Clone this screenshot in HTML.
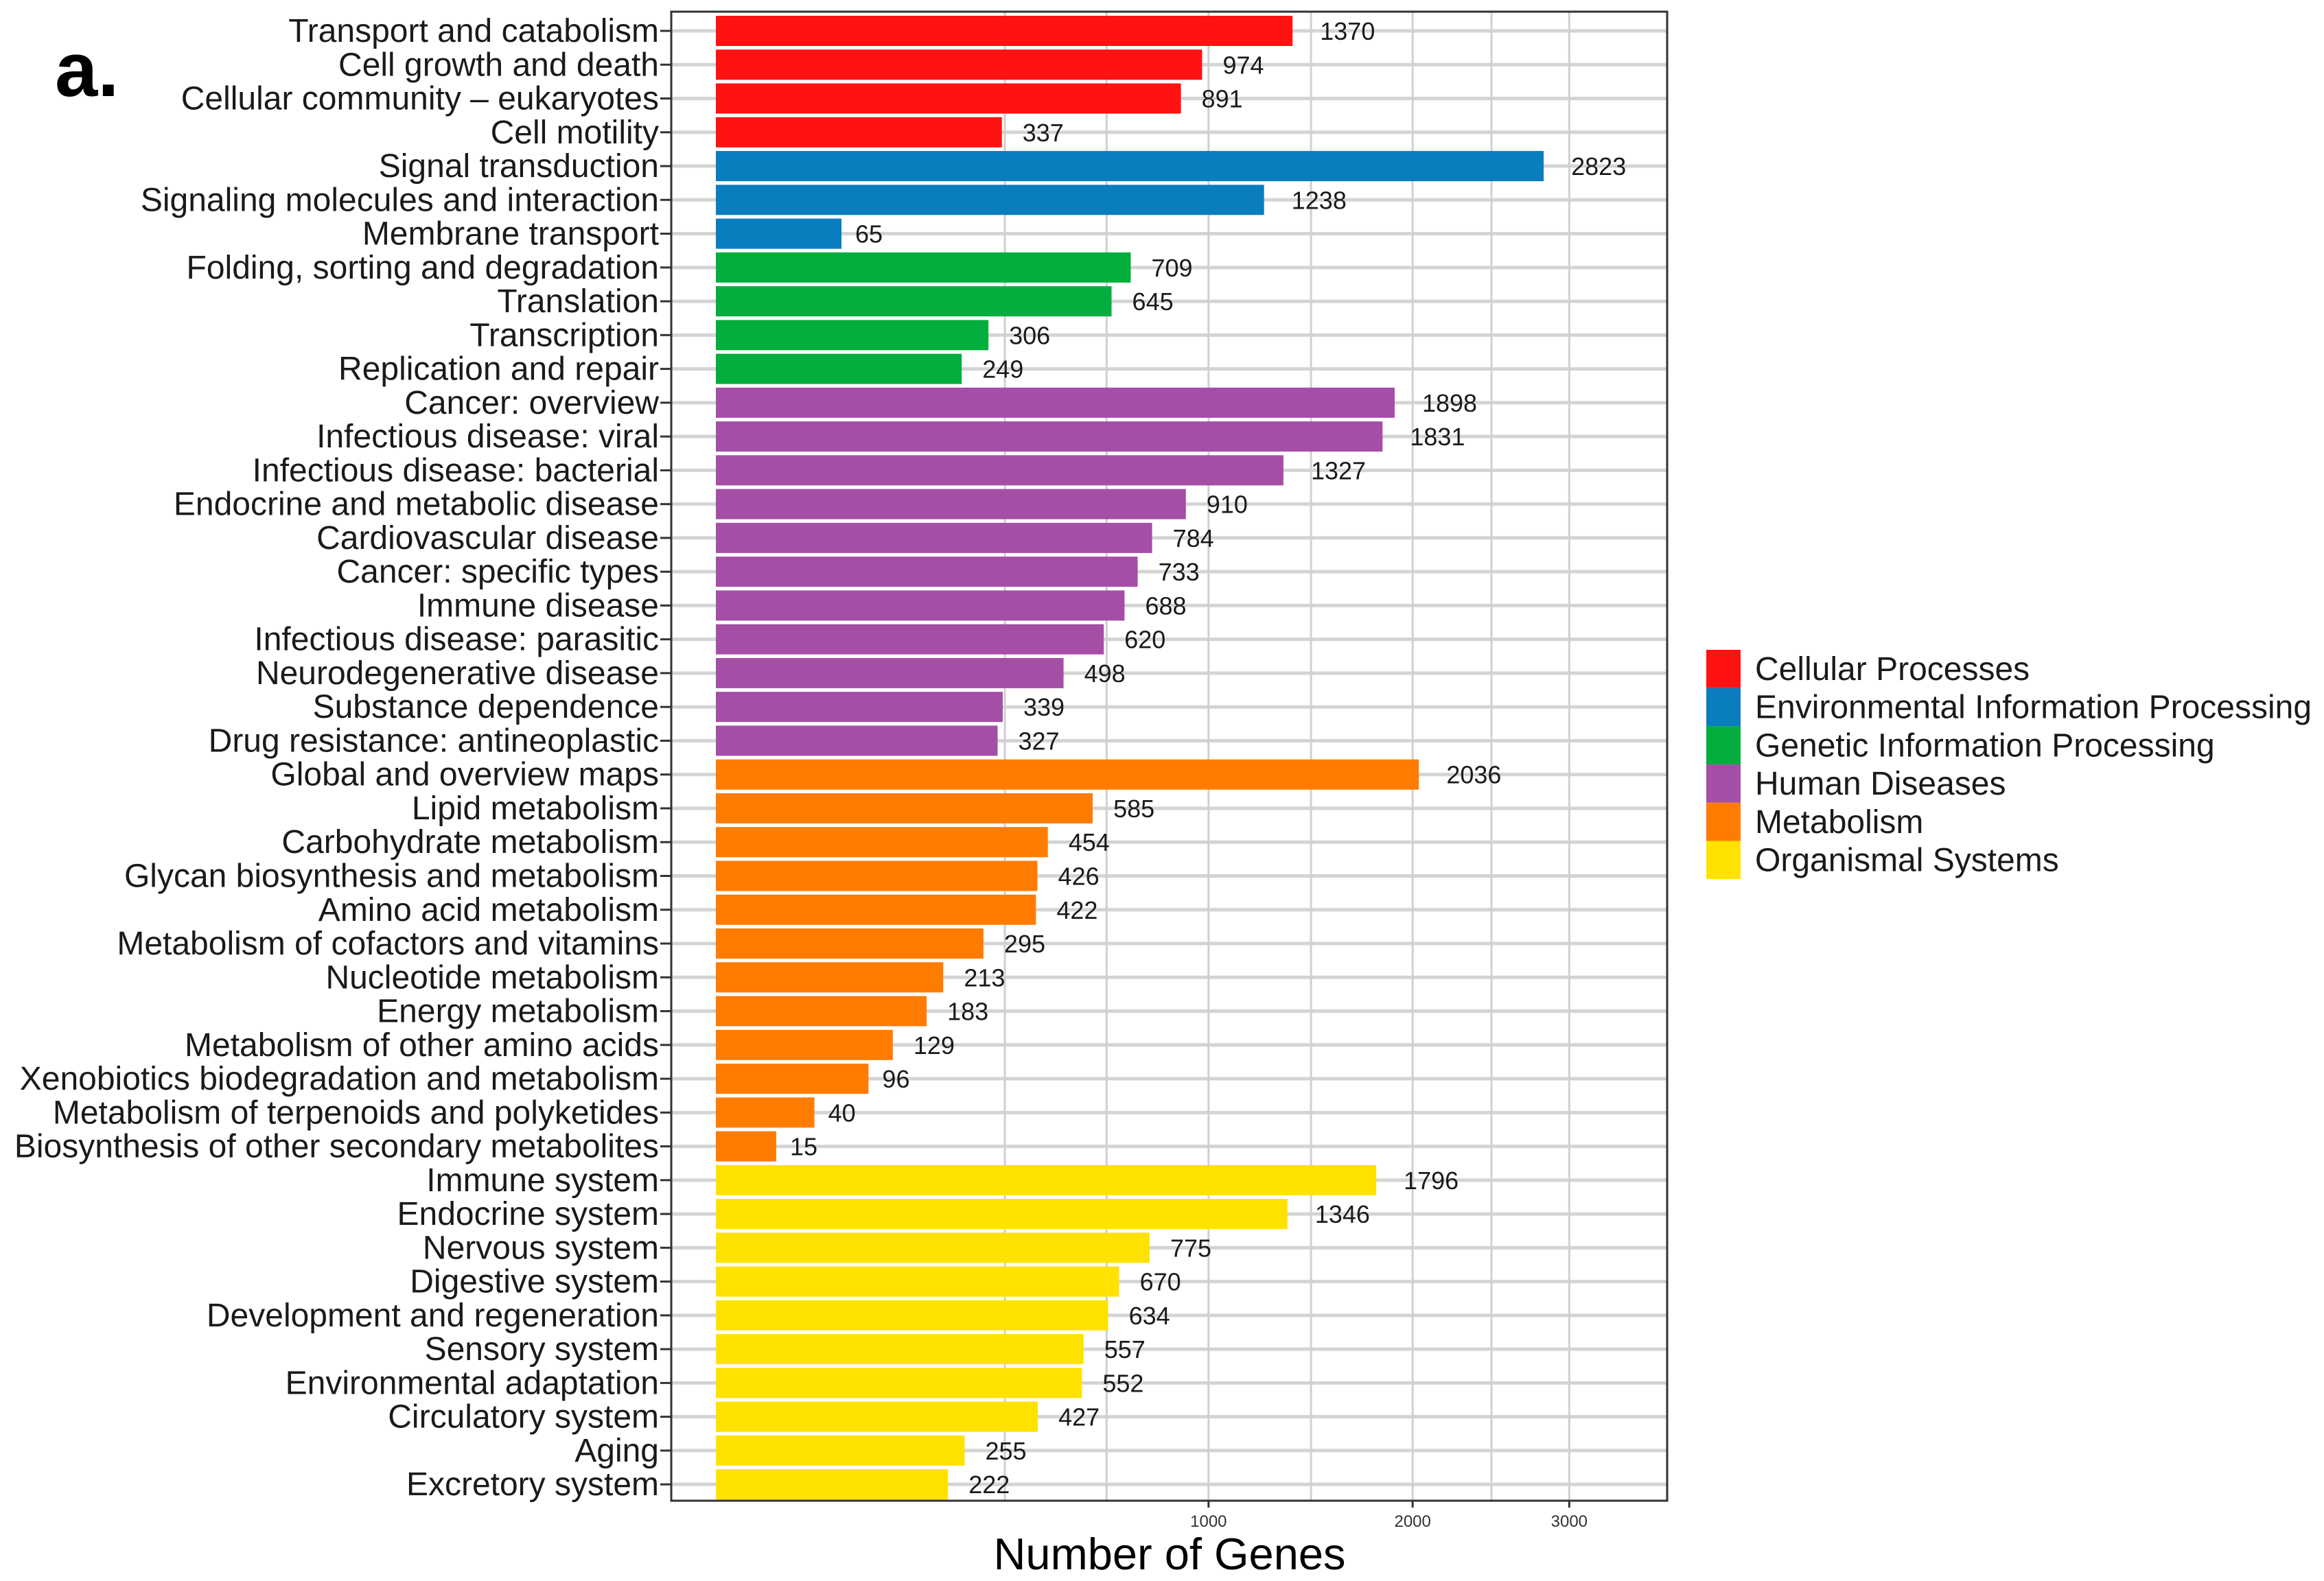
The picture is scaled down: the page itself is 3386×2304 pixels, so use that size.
<!DOCTYPE html>
<html><head><meta charset="utf-8"><style>
html,body{margin:0;padding:0;background:#fff;}
svg{display:block;font-family:"Liberation Sans",Arial,sans-serif;}
</style></head><body>
<svg id="chart" width="3386" height="2304" viewBox="0 0 3386 2304" xmlns="http://www.w3.org/2000/svg">
<rect width="3386" height="2304" fill="#fff"/>
<text x="80" y="140" font-size="112" font-weight="bold" fill="#000">a.</text>
<g id="grid"></g><g id="bars"></g><g id="ylab"></g><g id="vals"></g><g id="xaxis"></g><g id="legend"></g>
<rect x="978" y="17" width="1451" height="2170" fill="none" stroke="#333" stroke-width="3"/>
<text x="1704" y="2287" font-size="65" text-anchor="middle" fill="#000">Number of Genes</text>
</svg>
<script>
const categories=["Transport and catabolism","Cell growth and death","Cellular community – eukaryotes","Cell motility","Signal transduction","Signaling molecules and interaction","Membrane transport","Folding, sorting and degradation","Translation","Transcription","Replication and repair","Cancer: overview","Infectious disease: viral","Infectious disease: bacterial","Endocrine and metabolic disease","Cardiovascular disease","Cancer: specific types","Immune disease","Infectious disease: parasitic","Neurodegenerative disease","Substance dependence","Drug resistance: antineoplastic","Global and overview maps","Lipid metabolism","Carbohydrate metabolism","Glycan biosynthesis and metabolism","Amino acid metabolism","Metabolism of cofactors and vitamins","Nucleotide metabolism","Energy metabolism","Metabolism of other amino acids","Xenobiotics biodegradation and metabolism","Metabolism of terpenoids and polyketides","Biosynthesis of other secondary metabolites","Immune system","Endocrine system","Nervous system","Digestive system","Development and regeneration","Sensory system","Environmental adaptation","Circulatory system","Aging","Excretory system"];
const values=[1370,974,891,337,2823,1238,65,709,645,306,249,1898,1831,1327,910,784,733,688,620,498,339,327,2036,585,454,426,422,295,213,183,129,96,40,15,1796,1346,775,670,634,557,552,427,255,222];
const groups=[0,0,0,0,1,1,1,2,2,2,2,3,3,3,3,3,3,3,3,3,3,3,4,4,4,4,4,4,4,4,4,4,4,4,5,5,5,5,5,5,5,5,5,5];
const groupNames=["Cellular Processes","Environmental Information Processing","Genetic Information Processing","Human Diseases","Metabolism","Organismal Systems"];
const groupColors=["#fe1212","#0a7dbf","#03ae3e","#a54ea6","#ff7c00","#ffe200"];
const xTicks=[1000,2000,3000];
const xMinor=[344,629,1459,2478];

const NS="http://www.w3.org/2000/svg";
const X0=1043,K=22.7,Y0=45,STEP=49.26,BH=44;
const xs=v=>X0+K*Math.sqrt(v);
const ys=i=>Y0+i*STEP;
function mk(parent,tag,attrs){const e=document.createElementNS(NS,tag);for(const k in attrs)e.setAttribute(k,attrs[k]);document.getElementById(parent).appendChild(e);return e;}

categories.forEach((c,i)=>{
  const l=mk('grid','line',{x1:978,x2:2429,y1:ys(i),y2:ys(i),stroke:"#d4d4d4","stroke-width":5});
  
  
});
xMinor.concat(xTicks).forEach(v=>{
  const l=mk('grid','line',{x1:xs(v),x2:xs(v),y1:17,y2:2187,stroke:"#d0d0d0","stroke-width":3});
  
  
});
categories.forEach((c,i)=>{
  const y=ys(i);
  const b=mk('bars','rect',{x:X0,y:y-BH/2,width:xs(values[i])-X0,height:BH,fill:groupColors[groups[i]]});
  
  
  const t=mk('ylab','text',{x:960,y:y+16,"font-size":48,"text-anchor":"end",fill:"#1a1a1a"});
  t.textContent=c;
  
  
  const tk=mk('ylab','line',{x1:962,x2:978,y1:y,y2:y,stroke:"#333","stroke-width":3});
  
  
  const v=mk('vals','text',{x:0,y:y+13,"font-size":36,fill:"#1a1a1a"});
  v.textContent=values[i];
  
  
  const w=v.getComputedTextLength();
  v.setAttribute('x',xs(values[i])+0.5*w);
});
xTicks.forEach(v=>{
  const tk=mk('xaxis','line',{x1:xs(v),x2:xs(v),y1:2187,y2:2197,stroke:"#333","stroke-width":3});
  
  
  const t=mk('xaxis','text',{x:xs(v),y:2225,"font-size":24,"text-anchor":"middle",fill:"#333"});
  t.textContent=v;
  
  
});
groupNames.forEach((g,i)=>{
  const y=947+i*55.7;
  const r=mk('legend','rect',{x:2486,y:y,width:50,height:55.7,fill:groupColors[i]});
  
  
  const t=mk('legend','text',{x:2557,y:y+44,"font-size":48,fill:"#1a1a1a"});
  t.textContent=g;
  
  
});
</script>
</body></html>
